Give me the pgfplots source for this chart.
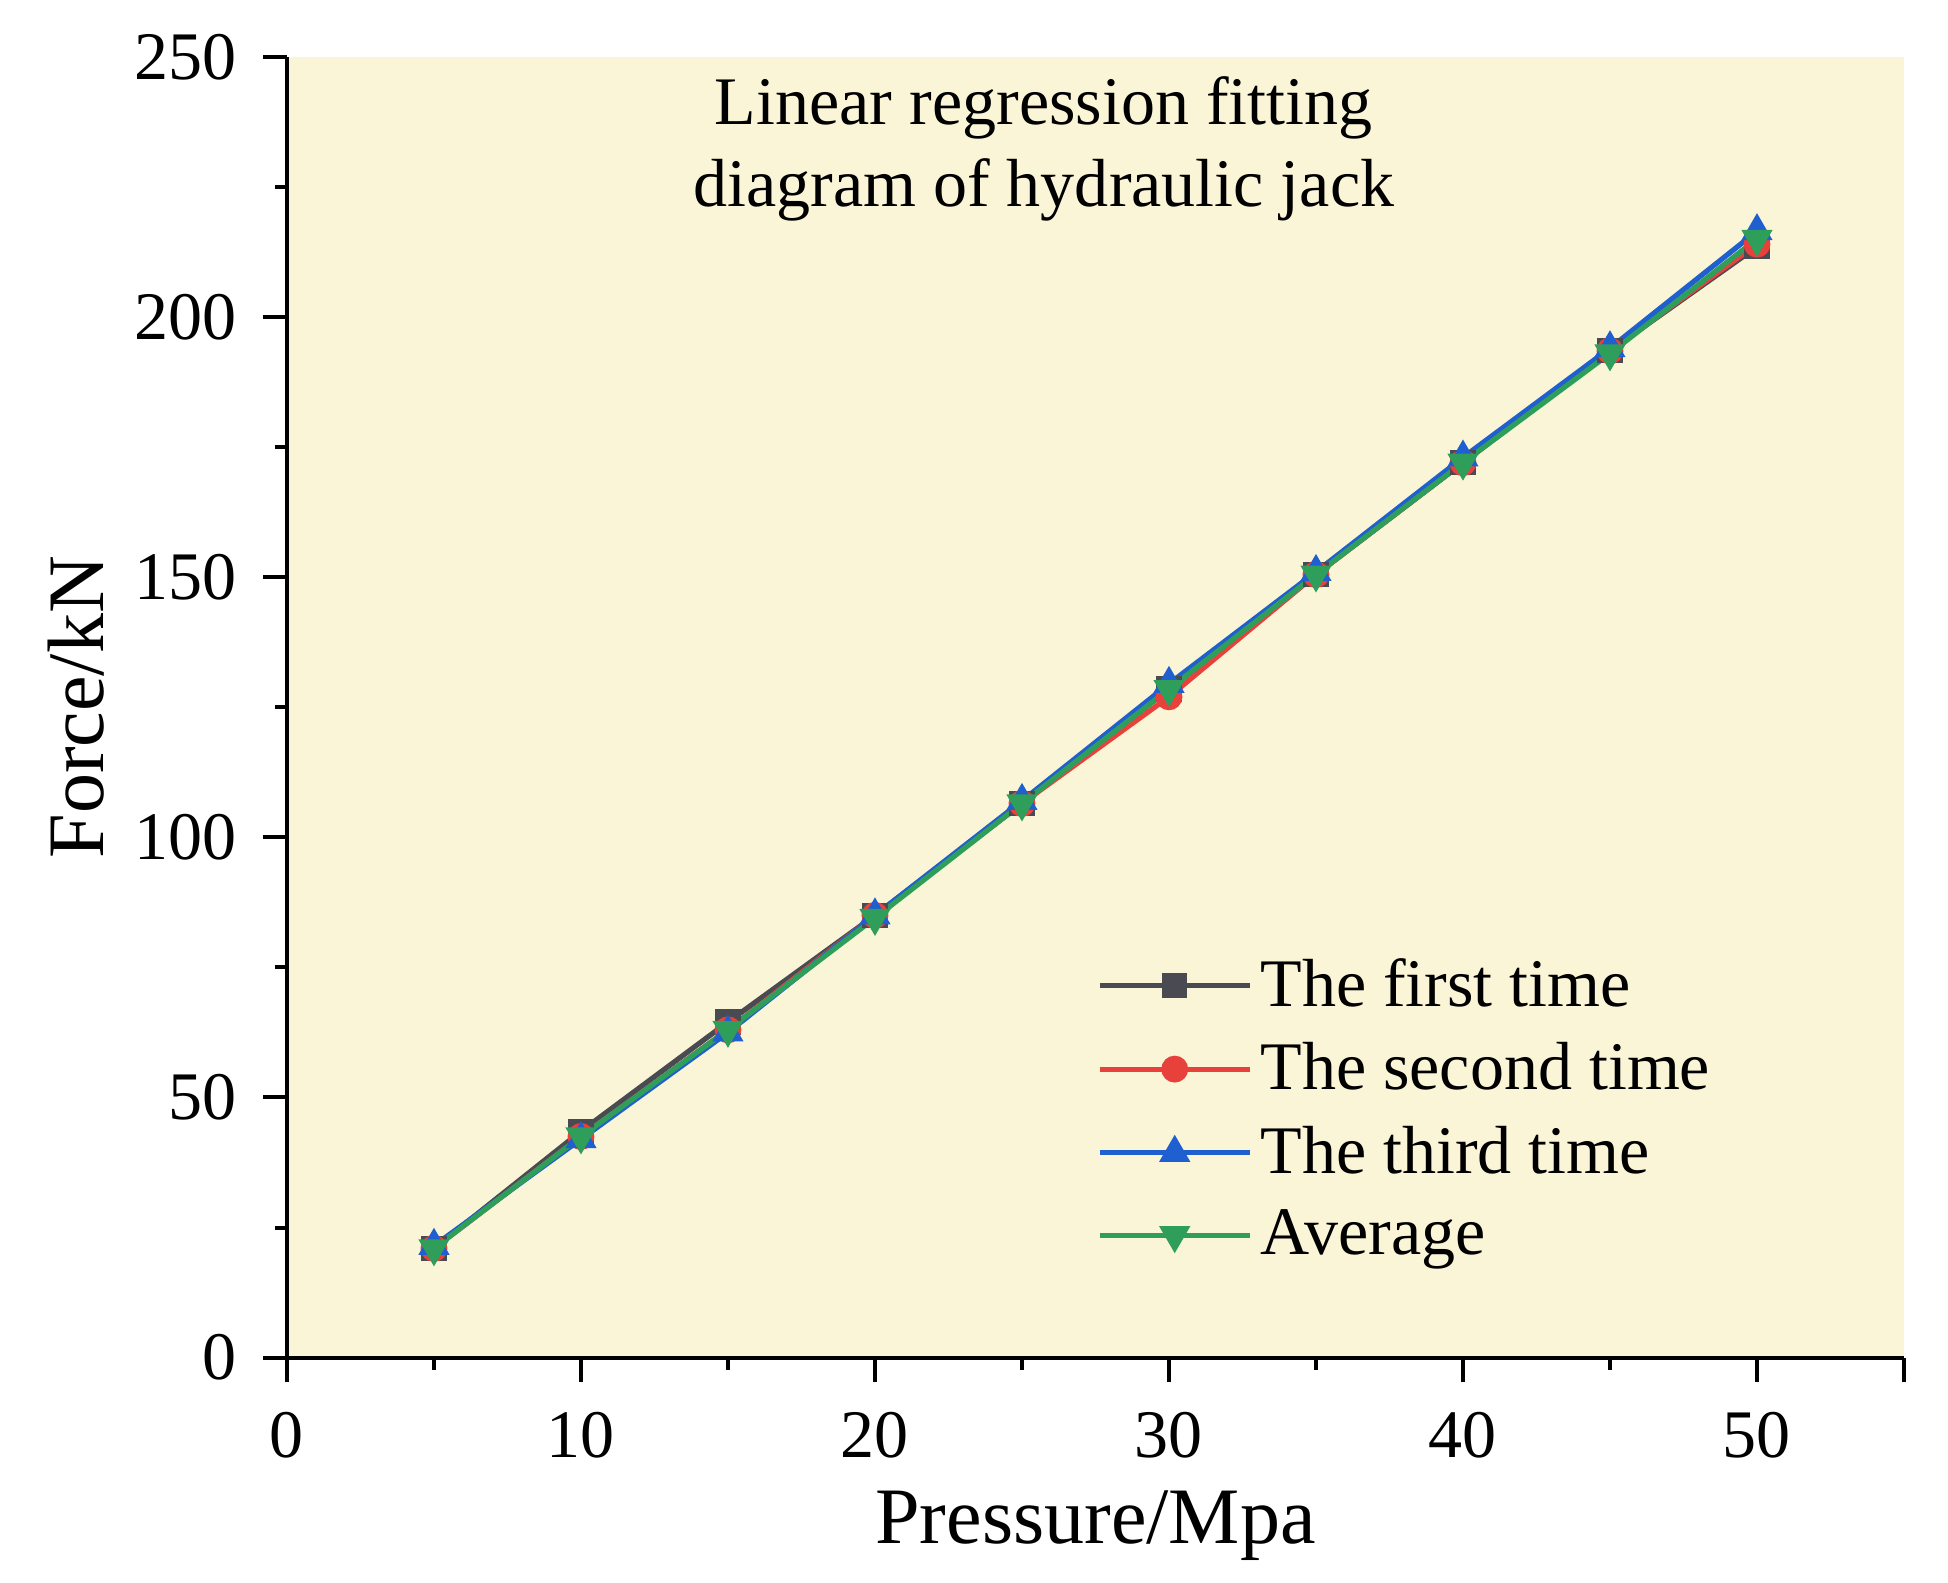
\documentclass[border=0pt]{standalone}
\usepackage{pgfplots}
\pgfplotsset{compat=1.18}
\usepackage{fontspec}
\setmainfont{Liberation Serif}
\definecolor{bgc}{HTML}{FAF5D6}
\definecolor{c1}{HTML}{4A4A52}
\definecolor{c2}{HTML}{E8413C}
\definecolor{c3}{HTML}{1F5FCF}
\definecolor{c4}{HTML}{2E9E5A}
\begin{document}
\begin{tikzpicture}
\begin{axis}[
  scale only axis,
  width=404pt, height=325pt,
  xmin=0, xmax=55, ymin=0, ymax=250,
  axis x line*=bottom, axis y line*=left,
  axis line style={line width=1pt, -},
  axis background/.style={fill=bgc},
  xtick={0,10,...,50}, ytick={0,50,...,250},
  minor x tick num=1, minor y tick num=1,
  extra x ticks={55}, extra x tick labels={},
  tick align=outside,
  major tick length=6pt, minor tick length=3pt,
  every tick/.style={black, line width=1pt},
  tick label style={font=\fontsize{17}{20}\selectfont},
  xticklabel style={yshift=-4pt},
  yticklabel style={xshift=-3pt},
  /pgf/number format/assume math mode=true,
  xlabel={Pressure/Mpa}, ylabel={Force/kN},
  label style={font=\fontsize{20}{24}\selectfont},
  xlabel style={at={([yshift=-42pt]axis description cs:0.5,0)}, anchor=center},
  ylabel style={at={([xshift=-52.8pt]axis description cs:0,0.5)}, anchor=center},
  legend style={draw=none, fill=none, at={(rel axis cs:0.493,0.32)}, anchor=north west,
    font=\fontsize{17}{20}\selectfont, row sep=3.6pt, cells={anchor=west}},
  legend image code/.code={%
    \draw[mark repeat=2,mark phase=2] plot coordinates {(0cm,0cm) (0.66cm,0cm) (1.32cm,0cm)};},
  clip=false,
]
\addplot[c1, line width=1.3pt, mark=square*, mark size=2.5pt, mark options={solid}] coordinates {
(5,21) (10,43.5) (15,64.5) (20,85) (25,106.5) (30,128.5) (35,150.5) (40,172) (45,193.5) (50,213.5)};
\addlegendentry{The first time}
\addplot[c2, line width=1.3pt, mark=*, mark size=2.7pt] coordinates {
(5,21) (10,42.5) (15,63) (20,85) (25,106.5) (30,127) (35,150.5) (40,172) (45,193.5) (50,214)};
\addlegendentry{The second time}
\addplot[c3, line width=1.3pt, mark=triangle*, mark size=3.2pt] coordinates {
(5,21.5) (10,42) (15,62.5) (20,85) (25,107) (30,129.5) (35,151) (40,173) (45,194) (50,216.5)};
\addlegendentry{The third time}
\addplot[c4, line width=1.3pt, mark=triangle*, mark size=3.2pt, mark options={rotate=180}] coordinates {
(5,21) (10,42.5) (15,63) (20,84.5) (25,106.5) (30,128.5) (35,150.5) (40,172) (45,193) (50,215)};
\addlegendentry{Average}
\node[align=center, font=\fontsize{17}{20.5}\selectfont] at (rel axis cs:0.468,0.929)
  {Linear regression fitting\\diagram of hydraulic jack};
\coordinate (bl) at ([xshift=-71.7pt,yshift=-56.3pt]rel axis cs:0,0);
\coordinate (tr) at ([xshift=11pt,yshift=14.2pt]rel axis cs:1,1);
\end{axis}
\pgfresetboundingbox
\useasboundingbox (bl) rectangle (tr);
\end{tikzpicture}
\end{document}
